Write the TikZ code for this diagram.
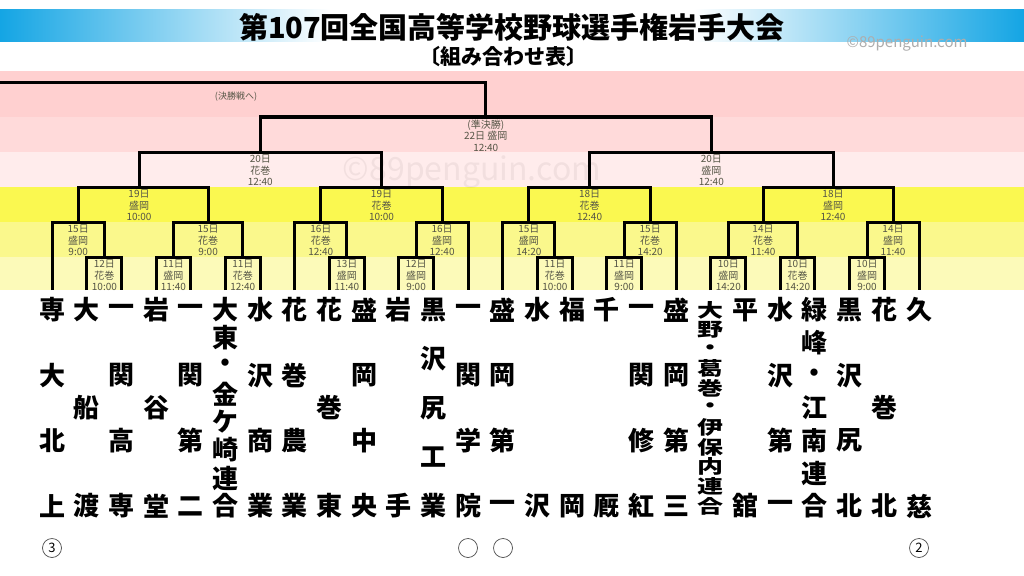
\documentclass[tikz,border=0pt]{standalone}
\usepackage{fontspec}
\newfontfamily\cjk{Noto Sans CJK JP}
\definecolor{titleblue}{RGB}{20,165,228}
\definecolor{pinkA}{RGB}{255,208,208}
\definecolor{pinkB}{RGB}{255,218,218}
\definecolor{pinkC}{RGB}{255,236,236}
\definecolor{yellowA}{RGB}{250,248,80}
\definecolor{yellowB}{RGB}{250,248,140}
\definecolor{yellowC}{RGB}{252,250,185}
\definecolor{infogray}{RGB}{85,85,70}

\begin{document}
\begin{tikzpicture}[x=1pt, y=-1pt, line width=3pt,
    team/.style={inner sep=0pt, font=\cjk\bfseries\fontsize{26}{26}\selectfont},
    info/.style={anchor=north, align=center, inner sep=0pt, text=infogray,
      font=\cjk\fontsize{10}{11.5}\selectfont},
    circmark/.style={circle, draw=black!70, line width=0.7pt, minimum size=19pt,
      inner sep=0pt, font=\cjk\fontsize{13}{13}\selectfont}]
  \useasboundingbox (0,0) rectangle (1024,575);
  \fill[white] (0,0) rectangle (1024,575);
  \shade[left color=titleblue, right color=white] (0,10) rectangle (330,42);
  \shade[left color=white, right color=titleblue] (694,10) rectangle (1024,42);
  \fill[pinkA] (0,71) rectangle (1024,117);
  \fill[pinkB] (0,117) rectangle (1024,152);
  \fill[pinkC] (0,152) rectangle (1024,187);
  \fill[yellowA] (0,187) rectangle (1024,222);
  \fill[yellowB] (0,222) rectangle (1024,257);
  \fill[yellowC] (0,257) rectangle (1024,290);

  \node[font=\cjk\bfseries\fontsize{29}{29}\selectfont] (title) at (512,27) {第107回全国高等学校野球選手権岩手大会};
  \node[font=\cjk\bfseries\fontsize{21}{21}\selectfont] (subtitle) at (503,57) {〔組み合わせ表〕};
  \node[text=black!32, font=\cjk\fontsize{15}{15}\selectfont] (wmark) at (907,44) {©89penguin.com};
  \node[text=black, opacity=0.05, font=\cjk\fontsize{32}{32}\selectfont] (wmarkb) at (472,172) {©89penguin.com};

  \foreach \i in {0,...,25}
    \coordinate (t\i) at (52+34.68*\i,290);
  \foreach \m/\x/\y in {r1a/104.4/257, r1b/173.4/257, r1c/242.8/257, r1d/346.8/257,
      r1e/416.1/257, r1f/554.9/257, r1g/624.2/257, r1h/728.3/257, r1i/797.6/257,
      r1j/867.0/257, r2a/78.2/222, r2b/208.1/222, r2c/320.8/222, r2d/442.1/222,
      r2e/528.9/222, r2f/650.2/222, r2g/763.0/222, r2h/893.0/222, r3a/139/187,
      r3b/381.5/187, r3c/589.6/187, r3d/833/187, r4a/260.3/152, r4b/711.3/152,
      sf/485.8/117, fin/0/83}
    \coordinate (\m) at (\x,\y);

  \foreach \a/\m/\b in {t1/r1a/t2, t3/r1b/t4, t5/r1c/t6, t8/r1d/t9, t10/r1e/t11,
      t14/r1f/t15, t16/r1g/t17, t19/r1h/t20, t21/r1i/t22, t23/r1j/t24,
      t0/r2a/r1a, r1b/r2b/r1c, t7/r2c/r1d, r1e/r2d/t12, t13/r2e/r1f, r1g/r2f/t18,
      r1h/r2g/r1i, r1j/r2h/t25, r2a/r3a/r2b, r2c/r3b/r2d, r2e/r3c/r2f, r2g/r3d/r2h,
      r3a/r4a/r3b, r3c/r4b/r3d, r4a/sf/r4b}
    \draw (\a) |- (\m) -| (\b);
  \draw (sf) |- (fin);

  \foreach \m/\d/\v/\h in {r1a/12/花巻/10:00, r1b/11/盛岡/11:40, r1c/11/花巻/12:40,
      r1d/13/盛岡/11:40, r1e/12/盛岡/9:00, r1f/11/花巻/10:00, r1g/11/盛岡/9:00,
      r1h/10/盛岡/14:20, r1i/10/花巻/14:20, r1j/10/盛岡/9:00, r2a/15/盛岡/9:00,
      r2b/15/花巻/9:00, r2c/16/花巻/12:40, r2d/16/盛岡/12:40, r2e/15/盛岡/14:20,
      r2f/15/花巻/14:20, r2g/14/花巻/11:40, r2h/14/盛岡/11:40, r3a/19/盛岡/10:00,
      r3b/19/花巻/10:00, r3c/18/花巻/12:40, r3d/18/盛岡/12:40, r4a/20/花巻/12:40,
      r4b/20/盛岡/12:40}
    \node[info] (l\m) at ([yshift=-1.5pt]\m) {\d 日\\\v\\\h};
  \node[info] (lsf) at ([yshift=-1.5pt]sf) {(準決勝)\\22日 盛岡\\12:40};
  \node[info, anchor=center, font=\cjk\fontsize{9}{9}\selectfont] (lfin) at (236,97) {(決勝戦へ)};

  \foreach \i/\n/\s/\name in {0/4/1/{専,大,北,上}, 1/3/1/{大,船,渡}, 2/4/1/{一,関,高,専},
      3/3/1/{岩,谷,堂}, 4/4/1/{一,関,第,二}, 5/8/1/{大,東,・,金,ケ,崎,連,合},
      6/4/1/{水,沢,商,業}, 7/4/1/{花,巻,農,業}, 8/3/1/{花,巻,東}, 9/4/1/{盛,岡,中,央},
      10/2/1/{岩,手}, 11/5/1/{黒,沢,尻,工,業}, 12/4/1/{一,関,学,院},
      13/4/1/{盛,岡,第,一}, 14/2/1/{水,沢}, 15/2/1/{福,岡}, 16/2/1/{千,厩},
      17/4/1/{一,関,修,紅}, 18/4/1/{盛,岡,第,三},
      19/11/0.72/{大,野,・,葛,巻,・,伊,保,内,連,合}, 20/2/1/{平,舘},
      21/4/1/{水,沢,第,一}, 22/7/1/{緑,峰,・,江,南,連,合}, 23/4/1/{黒,沢,尻,北},
      24/3/1/{花,巻,北}, 25/2/1/{久,慈}}
    \foreach \c [count=\k] in \name
      \node[team] (t\i-\k) at (52+34.68*\i,{310+(\k-1)*196/(\n-1)}) {\scalebox{1}[\s]{\c}};

  \node[circmark] (c0) at (52,548) {3};
  \node[circmark] (c12) at (468,548) {};
  \node[circmark] (c13) at (503,548) {};
  \node[circmark] (c25) at (919,548) {2};
\end{tikzpicture}
\end{document}
